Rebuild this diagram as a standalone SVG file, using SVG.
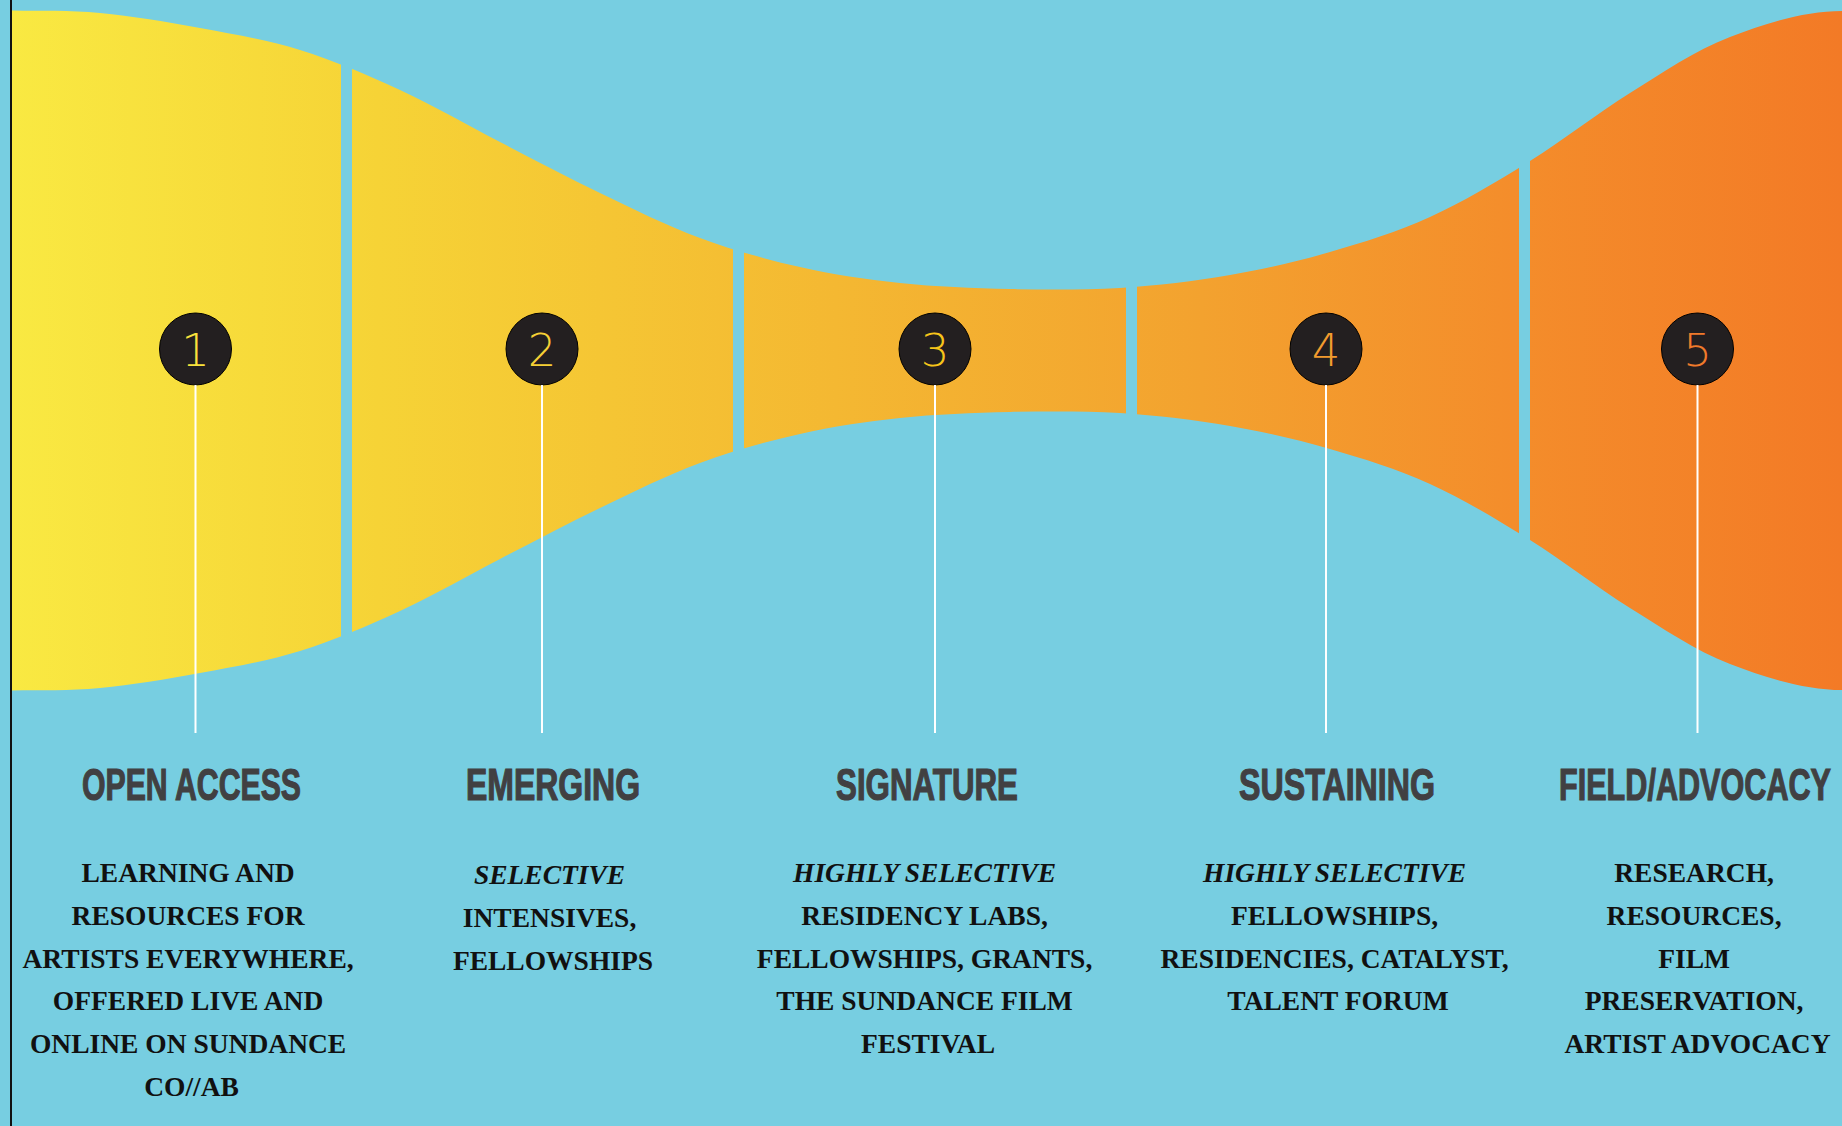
<svg xmlns="http://www.w3.org/2000/svg" width="1842" height="1126" viewBox="0 0 1842 1126">
  <defs>
    <linearGradient id="band" gradientUnits="userSpaceOnUse" x1="12" y1="0" x2="1842" y2="0">
      <stop offset="0" stop-color="#F9E942"/>
      <stop offset="0.2" stop-color="#F6D336"/>
      <stop offset="0.45" stop-color="#F4B832"/>
      <stop offset="0.65" stop-color="#F3A22F"/>
      <stop offset="0.82" stop-color="#F48D2B"/>
      <stop offset="1" stop-color="#F37A26"/>
    </linearGradient>
    <clipPath id="bandClip">
      <path d="M12,10.5 C41,11 68.7,10.1 100,13 C131.3,15.9 166.7,21.8 200,28 C233.3,34.2 266.7,39.7 300,50 C333.3,60.3 366.7,74.7 400,90 C433.3,105.3 466.7,124.8 500,142 C533.3,159.2 566.7,177 600,193 C633.3,209 666.7,225.7 700,238 C733.3,250.3 766.7,259.5 800,267 C833.3,274.5 865,279.3 900,283 C935,286.7 973.3,288.2 1010,289 C1046.7,289.8 1083.3,290 1120,288 C1156.7,285.7 1195,281 1230,275 C1265,269 1296.7,261.7 1330,252 C1363.3,242.3 1396.7,232.2 1430,217 C1463.3,201.8 1496.7,181.7 1530,161 C1563.3,140.3 1596.7,113.7 1630,93 C1663.3,72.3 1694.7,50.7 1730,37 C1765.3,23.3 1805,11 1842,11 L1842,690 C1805,690 1765.3,677.7 1730,664 C1694.7,650.3 1663.3,628.7 1630,608 C1596.7,587.3 1563.3,560.7 1530,540 C1496.7,519.3 1463.3,499.2 1430,484 C1396.7,468.8 1363.3,458.7 1330,449 C1296.7,439.3 1265,432 1230,426 C1195,420 1156.7,415.3 1120,413 C1083.3,411 1046.7,411.2 1010,412 C973.3,412.8 935,414.3 900,418 C865,421.7 833.3,426.5 800,434 C766.7,441.5 733.3,450.7 700,463 C666.7,475.3 633.3,492 600,508 C566.7,524 533.3,541.8 500,559 C466.7,576.2 433.3,595.7 400,611 C366.7,626.3 333.3,640.7 300,651 C266.7,661.3 233.3,666.8 200,673 C166.7,679.2 131.3,685.1 100,688 C68.7,690.9 41,690 12,690.5 Z"/>
    </clipPath>
    <style>
      .seg { fill: url(#band); clip-path: url(#bandClip); }
      .badge { fill: #231F20; stroke: #000; stroke-width: 1; }
      .num { font-family: "DejaVu Sans", "Liberation Sans", sans-serif; font-weight: 200; font-size: 45px; text-anchor: middle; }
      .head { font-family: "Liberation Sans", Arial, sans-serif; font-weight: 700; font-size: 44px; fill: #414042; stroke: #414042; stroke-width: 1.2; text-anchor: middle; }
      .body { font-family: "Liberation Serif", "Times New Roman", serif; font-weight: 700; font-size: 27.5px; fill: #111; text-anchor: middle; }
      .it { font-style: italic; }
      .lead { stroke: #FFFFFF; stroke-width: 2; fill: none; }
    </style>
  </defs>

  <rect x="0" y="0" width="1842" height="1126" fill="#77CEE1"/>
  <rect x="10" y="0" width="2" height="1126" fill="#111"/>

  <g id="stage-1">
    <rect class="seg" x="12" y="0" width="329" height="700"/>
    <circle class="badge" cx="195.5" cy="349" r="36"/>
    <text class="num" x="195.5" y="366" fill="#F9E23C">1</text>
    <text class="head" x="191.5" y="800" textLength="219" lengthAdjust="spacingAndGlyphs">OPEN ACCESS</text>
    <text class="body">
      <tspan x="191.5" y="882">LEARNING AND</tspan>
      <tspan x="191.5" y="925">RESOURCES FOR</tspan>
      <tspan x="191.5" y="968">ARTISTS EVERYWHERE,</tspan>
      <tspan x="191.5" y="1010">OFFERED LIVE AND</tspan>
      <tspan x="191.5" y="1053">ONLINE ON SUNDANCE</tspan>
      <tspan x="191.5" y="1096">CO//AB</tspan>
    </text>
  </g>

  <g id="stage-2">
    <rect class="seg" x="352" y="0" width="381" height="700"/>
    <circle class="badge" cx="542" cy="349" r="36"/>
    <text class="num" x="542" y="366" fill="#F6D035">2</text>
    <text class="head" x="553" y="800" textLength="174" lengthAdjust="spacingAndGlyphs">EMERGING</text>
    <text class="body">
      <tspan class="it" x="553" y="884">SELECTIVE</tspan>
      <tspan x="553" y="927">INTENSIVES,</tspan>
      <tspan x="553" y="970">FELLOWSHIPS</tspan>
    </text>
  </g>

  <g id="stage-3">
    <rect class="seg" x="744" y="0" width="382" height="700"/>
    <circle class="badge" cx="935" cy="349" r="36"/>
    <text class="num" x="935" y="366" fill="#F7C51A">3</text>
    <text class="head" x="927" y="800" textLength="182" lengthAdjust="spacingAndGlyphs">SIGNATURE</text>
    <text class="body">
      <tspan class="it" x="928" y="882">HIGHLY SELECTIVE</tspan>
      <tspan x="928" y="925">RESIDENCY LABS,</tspan>
      <tspan x="928" y="968">FELLOWSHIPS, GRANTS,</tspan>
      <tspan x="928" y="1010">THE SUNDANCE FILM</tspan>
      <tspan x="928" y="1053">FESTIVAL</tspan>
    </text>
  </g>

  <g id="stage-4">
    <rect class="seg" x="1137" y="0" width="382" height="700"/>
    <circle class="badge" cx="1326" cy="349" r="36"/>
    <text class="num" x="1326" y="366" fill="#F29B2E">4</text>
    <text class="head" x="1337" y="800" textLength="196" lengthAdjust="spacingAndGlyphs">SUSTAINING</text>
    <text class="body">
      <tspan class="it" x="1338" y="882">HIGHLY SELECTIVE</tspan>
      <tspan x="1338" y="925">FELLOWSHIPS,</tspan>
      <tspan x="1338" y="968">RESIDENCIES, CATALYST,</tspan>
      <tspan x="1338" y="1010">TALENT FORUM</tspan>
    </text>
  </g>

  <g id="stage-5">
    <rect class="seg" x="1530" y="0" width="312" height="700"/>
    <circle class="badge" cx="1697.5" cy="349" r="36"/>
    <text class="num" x="1697.5" y="366" fill="#F07A2B">5</text>
    <text class="head" x="1695" y="800" textLength="272" lengthAdjust="spacingAndGlyphs">FIELD/ADVOCACY</text>
    <text class="body">
      <tspan x="1697.5" y="882">RESEARCH,</tspan>
      <tspan x="1697.5" y="925">RESOURCES,</tspan>
      <tspan x="1697.5" y="968">FILM</tspan>
      <tspan x="1697.5" y="1010">PRESERVATION,</tspan>
      <tspan x="1697.5" y="1053">ARTIST ADVOCACY</tspan>
    </text>
  </g>

  <g id="connectors">
    <line class="lead" x1="195.5" y1="385" x2="195.5" y2="733"/>
    <line class="lead" x1="542" y1="385" x2="542" y2="733"/>
    <line class="lead" x1="935" y1="385" x2="935" y2="733"/>
    <line class="lead" x1="1326" y1="385" x2="1326" y2="733"/>
    <line class="lead" x1="1697.5" y1="385" x2="1697.5" y2="733"/>
  </g>
</svg>
